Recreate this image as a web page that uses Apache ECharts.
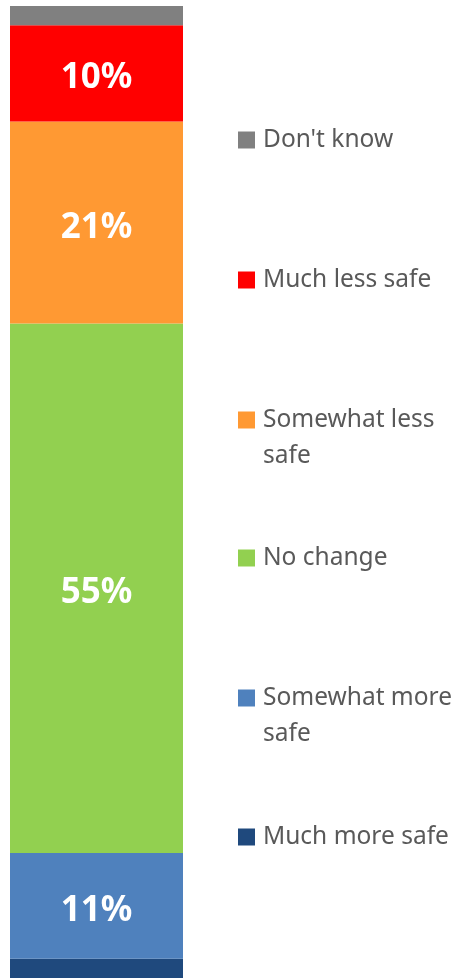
<!DOCTYPE html>
<html>
<head>
<meta charset="utf-8">
<script src="https://cdn.jsdelivr.net/npm/echarts@6/dist/echarts.min.js"></script>
<style>
  html, body { margin: 0; padding: 0; background: #fff; }
  #chart { width: 461px; height: 978px; }
</style>
</head>
<body>
<div id="chart"></div>
<script>
// bottom-up stack order
const categories = ["All"];
const seriesNames = ["Much more safe", "Somewhat more safe", "No change", "Somewhat less safe", "Much less safe", "Don't know"];
const seriesValues = [2, 11, 55, 21, 10, 2];
const legendLines = {
  "Don't know": ["Don't know"],
  "Much less safe": ["Much less safe"],
  "Somewhat less safe": ["Somewhat less", "safe"],
  "No change": ["No change"],
  "Somewhat more safe": ["Somewhat more", "safe"],
  "Much more safe": ["Much more safe"]
};
const colors = ["#1F497D", "#4F81BD", "#92D050", "#FF9933", "#FF0000", "#808080"];
const legendCenters = [837, 698, 558, 420, 280, 140];

const FONT = "'Noto Sans', 'Open Sans', sans-serif";
const total = seriesValues.reduce((a, b) => a + b, 0);

const chart = echarts.init(document.getElementById("chart"));

const series = seriesNames.map((name, i) => ({
  name: name,
  type: "bar",
  stack: "all",
  barWidth: 173,
  data: [seriesValues[i]],
  itemStyle: { color: colors[i] },
  label: {
    show: seriesValues[i] >= 5,
    position: "inside",
    offset: [0, 5],
    formatter: "{c}%",
    color: "#fff",
    fontFamily: FONT,
    fontWeight: "bold",
    fontSize: 35
  }
}));

const legends = seriesNames.map((name, i) => ({
  show: true,
  data: [name],
  left: 233,
  top: legendCenters[i] - 18,
  padding: 0,
  itemWidth: 0,
  itemHeight: 0,
  selectedMode: false,
  formatter: () => {
    const lines = legendLines[name];
    let s = "{sq|}{t|" + lines[0] + "}";
    for (let k = 1; k < lines.length; k++) s += "\n{t2|" + lines[k] + "}";
    return s;
  },
  textStyle: {
    fontFamily: FONT,
    fontSize: 24.5,
    color: "#595959",
    lineHeight: 36,
    rich: {
      sq: { width: 17, height: 17, backgroundColor: colors[i] },
      t: { fontFamily: FONT, fontSize: 24.5, color: "#595959", lineHeight: 36, padding: [0, 0, 0, 8] },
      t2: { fontFamily: FONT, fontSize: 24.5, color: "#595959", lineHeight: 36, padding: [0, 0, 0, 25] }
    }
  }
}));

chart.setOption({
  animation: false,
  grid: { left: 10, top: 6, width: 173, bottom: 0, containLabel: false },
  xAxis: {
    type: "category",
    data: categories,
    show: false
  },
  yAxis: {
    type: "value",
    min: 0,
    max: total,
    show: false
  },
  legend: legends,
  series: series
});
</script>
</body>
</html>
